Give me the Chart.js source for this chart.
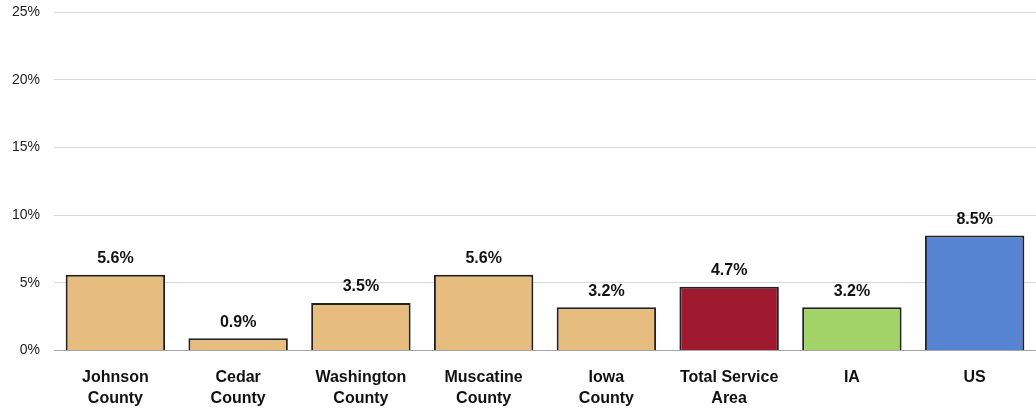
<!DOCTYPE html>
<html lang="en">
<head>
<meta charset="UTF-8">
<title>Chart</title>
<script src="https://cdn.jsdelivr.net/npm/chart.js@4"></script>
<style>
  body { margin: 0; background: #fff; }
</style>
</head>
<body>
<canvas id="chart" width="1036" height="411"></canvas>
<script>
// data
const categories = [["Johnson", "County"], ["Cedar", "County"], ["Washington", "County"], ["Muscatine", "County"], ["Iowa", "County"], ["Total Service", "Area"], ["IA"], ["US"]];
const values = [5.6, 0.9, 3.5, 5.6, 3.2, 4.7, 3.2, 8.5];
const barColors = ["#E6BC7F", "#E6BC7F", "#E6BC7F", "#E6BC7F", "#E6BC7F", "#A01A2F", "#A2D366", "#5683D2"];
const yTicks = [0, 5, 10, 15, 20, 25];

const labelFont = "'Liberation Sans', Arial, sans-serif";

// draws the value above each bar
const valueLabels = {
  id: 'valueLabels',
  afterDatasetsDraw(chart) {
    const ctx = chart.ctx;
    const meta = chart.getDatasetMeta(0);
    ctx.save();
    ctx.font = "bold 16px " + labelFont;
    ctx.fillStyle = "#111";
    ctx.textAlign = "center";
    ctx.textBaseline = "bottom";
    meta.data.forEach(function (bar, i) {
      ctx.fillText(values[i].toFixed(1) + "%", bar.x, bar.y - 8);
    });
    ctx.restore();
  }
};

new Chart(document.getElementById('chart'), {
  type: 'bar',
  data: {
    labels: categories,
    datasets: [{
      data: values,
      backgroundColor: barColors,
      borderColor: "#222",
      borderWidth: 2,
      categoryPercentage: 0.81,
      barPercentage: 1
    }]
  },
  options: {
    responsive: false,
    animation: false,
    layout: { padding: { top: 0, right: 0, left: 8, bottom: -7 } },
    plugins: { legend: { display: false }, tooltip: { enabled: false } },
    scales: {
      x: {
        grid: { display: false },
        border: { display: true, color: "#a6a6a6" },
        ticks: {
          color: "#111",
          font: { family: labelFont, size: 16, weight: 'bold', lineHeight: 1.3 },
          padding: 9,
          maxRotation: 0,
          autoSkip: false
        }
      },
      y: {
        min: 0,
        max: 25,
        afterBuildTicks(axis) { axis.ticks = yTicks.map(v => ({ value: v })); },
        grid: {
          color: (c) => c.tick && c.tick.value === 0 ? "#a6a6a6" : "#d9d9d9",
          drawTicks: true,
          tickLength: 10,
          tickColor: 'transparent'
        },
        border: { display: false },
        ticks: {
          color: "#222",
          font: { family: labelFont, size: 14 },
          padding: 4,
          callback: (v) => v + "%"
        }
      }
    }
  },
  plugins: [valueLabels]
});
</script>
</body>
</html>
